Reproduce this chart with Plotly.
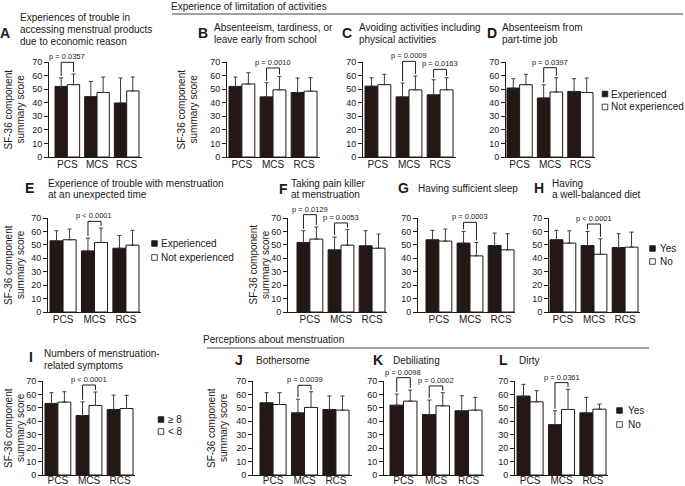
import plotly.graph_objects as go

W, H = 685, 486
categories = ["PCS", "MCS", "RCS"]
y_ticks = [0, 10, 20, 30, 40, 50, 60, 70]

# ---- data: means and SD (upper error) for black (first) and white (second) groups ----
A_black = [52.0, 44.5, 39.8]; A_black_sd = [6.3, 11.2, 18.5]
A_white = [53.3, 47.5, 48.7]; A_white_sd = [7.8, 11.4, 10.2]

B_black = [52.0, 44.3, 47.5]; B_black_sd = [6.9, 10.4, 10.7]
B_white = [53.8, 49.5, 48.5]; B_white_sd = [8.3, 9.9, 9.9]

C_black = [52.2, 44.3, 45.8]; C_black_sd = [6.2, 10.2, 11.1]
C_white = [53.3, 49.5, 49.5]; C_white_sd = [7.6, 10.2, 8.9]

D_black = [50.8, 43.5, 48.3]; D_black_sd = [6.9, 9.7, 9.4]
D_white = [53.3, 47.9, 47.5]; D_white_sd = [7.6, 10.5, 10.7]

E_black = [53.0, 45.5, 47.5]; E_black_sd = [7.5, 9.5, 9.5]
E_white = [53.8, 51.8, 49.8]; E_white_sd = [8.0, 10.7, 11.0]

F_black = [51.8, 46.3, 49.3]; F_black_sd = [8.7, 9.5, 11.2]
F_white = [54.3, 49.8, 47.5]; F_white_sd = [9.0, 11.5, 10.5]

G_black = [53.8, 51.3, 49.5]; G_black_sd = [7.0, 8.7, 9.3]
G_white = [52.8, 41.8, 46.3]; G_white_sd = [9.0, 10.0, 12.0]

H_black = [53.8, 49.5, 48.0]; H_black_sd = [7.0, 10.5, 10.3]
H_white = [51.3, 43.0, 48.3]; H_white_sd = [9.2, 11.5, 11.2]

I_black = [53.3, 44.3, 48.8]; I_black_sd = [8.0, 10.2, 10.7]
I_white = [54.3, 51.8, 49.5]; I_white_sd = [7.7, 10.0, 9.8]

J_black = [53.8, 46.3, 48.8]; J_black_sd = [7.5, 10.2, 10.0]
J_white = [52.5, 50.3, 48.3]; J_white_sd = [8.8, 11.7, 10.5]

K_black = [52.0, 45.0, 47.8]; K_black_sd = [8.3, 10.8, 11.2]
K_white = [55.0, 51.5, 48.3]; K_white_sd = [8.3, 9.8, 9.5]

L_black = [58.8, 37.5, 46.3]; L_black_sd = [8.7, 10.3, 11.5]
L_white = [54.5, 48.8, 49.0]; L_white_sd = [8.3, 15.0, 3.8]

# significance brackets: (category index, label, bracket top value)
A_sig = [(0, "p = 0.0357", 69.8)]
B_sig = [(1, "p = 0.0010", 65.6)]
C_sig = [(1, "p = 0.0009", 70.5), (2, "p = 0.0163", 64.6)]
D_sig = [(1, "p = 0.0397", 65.8)]
E_sig = [(1, "p &lt; 0.0001", 67.5)]
F_sig = [(0, "p = 0.0129", 72.5), (1, "p = 0.0053", 66.3)]
G_sig = [(1, "p = 0.0003", 66.8)]
H_sig = [(1, "p &lt; 0.0001", 65.5)]
I_sig = [(1, "p &lt; 0.0001", 67.0)]
J_sig = [(1, "p = 0.0039", 66.8)]
K_sig = [(0, "p = 0.0098", 72.5), (1, "p = 0.0002", 66.3)]
L_sig = [(1, "p = 0.0361", 68.8)]

# titles
A_title = ["Experiences of trouble in", "accessing menstrual products", "due to economic reason"]
B_title = ["Absenteeism, tardiness, or", "leave early from school"]
C_title = ["Avoiding activities including", "physical activities"]
D_title = ["Absenteeism from", "part-time job"]
E_title = ["Experience of trouble with menstruation", "at an unexpected time"]
F_title = ["Taking pain killer", "at menstruation"]
G_title = ["Having sufficient sleep"]
H_title = ["Having", "a well-balanced diet"]
I_title = ["Numbers of menstruation-", "related symptoms"]
J_title = ["Bothersome"]
K_title = ["Debiliating"]
L_title = ["Dirty"]

legend_exp = ["Experienced", "Not experienced"]
legend_yes = ["Yes", "No"]
legend_num = ["\u2265 8", "&lt; 8"]

header1 = "Experience of limitation of activities"
header2 = "Perceptions about menstruation"
ytitle = ["SF-36 component", "summary score"]

# ---- layout geometry (pixels) ----
INK = "#231815"
FONT = "Liberation Sans, Arial, sans-serif"
GAP = 0.17
rows = {1: (157, 62), 2: (312, 218), 3: (475, 381)}
label_standoff = {1: -2, 2: -2, 3: -4}

panels = [
    dict(k="A", b=A_black, bs=A_black_sd, w=A_white, ws=A_white_sd, sig=A_sig, geo=(49, 55, 139, 142), row=1,
         letter=(5, 33), title=A_title, tx=19, tys=[17, 29, 41], yt=(8, 20), leg=None),
    dict(k="B", b=B_black, bs=B_black_sd, w=B_white, ws=B_white_sd, sig=B_sig, geo=(227, 229, 317, 320), row=1,
         letter=(203, 33), title=B_title, tx=213, tys=[28, 40], yt=(181, 193), leg=None),
    dict(k="C", b=C_black, bs=C_black_sd, w=C_white, ws=C_white_sd, sig=C_sig, geo=(363, 365, 453, 456), row=1,
         letter=(347, 33), title=C_title, tx=358, tys=[28, 40], yt=None, leg=None),
    dict(k="D", b=D_black, bs=D_black_sd, w=D_white, ws=D_white_sd, sig=D_sig, geo=(506, 507, 593, 595), row=1,
         letter=(492, 33), title=D_title, tx=501, tys=[28, 40], yt=None, leg=(legend_exp, 605, 94, 13, 610)),
    dict(k="E", b=E_black, bs=E_black_sd, w=E_white, ws=E_white_sd, sig=E_sig, geo=(48, 50, 139, 141), row=2,
         letter=(29, 188), title=E_title, tx=47, tys=[183, 194], yt=(8, 20), leg=(legend_exp, 154.5, 243.5, 14, 160)),
    dict(k="F", b=F_black, bs=F_black_sd, w=F_white, ws=F_white_sd, sig=F_sig, geo=(288, 297, 385, 387), row=2,
         letter=(283, 189), title=F_title, tx=290, tys=[183, 194], yt=(252.5, 265), leg=None),
    dict(k="G", b=G_black, bs=G_black_sd, w=G_white, ws=G_white_sd, sig=G_sig, geo=(418, 426, 514, 515), row=2,
         letter=(403, 188), title=G_title, tx=417, tys=[188], yt=None, leg=None),
    dict(k="H", b=H_black, bs=H_black_sd, w=H_white, ws=H_white_sd, sig=H_sig, geo=(549, 550, 638, 640), row=2,
         letter=(539, 188), title=H_title, tx=551, tys=[183, 194], yt=None, leg=(legend_yes, 652.5, 248.5, 13, 659)),
    dict(k="I", b=I_black, bs=I_black_sd, w=I_white, ws=I_white_sd, sig=I_sig, geo=(43, 45, 133, 135), row=3,
         letter=(31, 357), title=I_title, tx=43, tys=[353, 365], yt=(8, 20), leg=(legend_num, 161, 419.5, 12, 167)),
    dict(k="J", b=J_black, bs=J_black_sd, w=J_white, ws=J_white_sd, sig=J_sig, geo=(253, 260, 349, 352), row=3,
         letter=(239, 360), title=J_title, tx=255, tys=[360], yt=(211, 223), leg=None),
    dict(k="K", b=K_black, bs=K_black_sd, w=K_white, ws=K_white_sd, sig=K_sig, geo=(384, 390, 482, 484), row=3,
         letter=(378, 360), title=K_title, tx=392, tys=[360], yt=None, leg=None),
    dict(k="L", b=L_black, bs=L_black_sd, w=L_white, ws=L_white_sd, sig=L_sig, geo=(515, 517, 606, 608), row=3,
         letter=(503, 360), title=L_title, tx=518, tys=[360], yt=None, leg=(legend_yes, 619.5, 410.5, 14, 627)),
]


def fx(p):
    return p / W


def fy(p):
    return 1 - p / H


fig = go.Figure()
annotations = []
shapes = []
layout_axes = {}


def text(x, y, s, size, xanchor="left", yanchor="middle", angle=0):
    annotations.append(dict(x=fx(x), y=fy(y), xref="paper", yref="paper", text=s, showarrow=False,
                            xanchor=xanchor, yanchor=yanchor, textangle=angle,
                            font=dict(family=FONT, size=size, color=INK), borderpad=0))


def line(x0, y0, x1, y1, w=1, color=INK):
    shapes.append(dict(type="line", xref="paper", yref="paper", x0=x0, y0=y0, x1=x1, y1=y1,
                       line=dict(color=color, width=w)))


for n, p in enumerate(panels, start=1):
    a0, b0, b1, a1 = p["geo"]
    ybot, ytop = rows[p["row"]]
    wcat = (b1 - b0) / (3 - GAP)
    r0 = -0.5 + GAP / 2 - (b0 - a0) / wcat
    r1 = 2.5 - GAP / 2 + (a1 - b1) / wcat
    xs = "" if n == 1 else str(n)
    err = dict(type="data", symmetric=False, color="#3a3a3a", thickness=1, width=2)
    fig.add_trace(go.Bar(x=categories, y=p["b"], xaxis="x" + xs, yaxis="y" + xs, showlegend=False,
                         marker=dict(color=INK, line=dict(color=INK, width=1)),
                         error_y=dict(err, array=p["bs"], arrayminus=[0, 0, 0])))
    fig.add_trace(go.Bar(x=categories, y=p["w"], xaxis="x" + xs, yaxis="y" + xs, showlegend=False,
                         marker=dict(color="white", line=dict(color=INK, width=1)),
                         error_y=dict(err, array=p["ws"], arrayminus=[0, 0, 0])))
    layout_axes["xaxis" + xs] = dict(domain=[fx(a0), fx(a1)], range=[r0, r1], anchor="y" + xs,
                                     type="category", categoryorder="array", categoryarray=categories,
                                     showline=True, linecolor=INK, linewidth=1, ticks="", showgrid=False,
                                     zeroline=False, automargin=False,
                                     ticklabelstandoff=label_standoff[p["row"]],
                                     tickfont=dict(family=FONT, size=10, color=INK))
    layout_axes["yaxis" + xs] = dict(domain=[fy(ybot), fy(ytop)], range=[0, 70], anchor="x" + xs,
                                     tickvals=y_ticks, showline=True, linecolor=INK, linewidth=1,
                                     ticks="outside", ticklen=4, tickcolor=INK, tickwidth=1,
                                     showgrid=False, zeroline=False, automargin=False,
                                     tickfont=dict(family=FONT, size=9, color=INK))

    def px_of(v, a0=a0, a1=a1, r0=r0, r1=r1):
        return fx(a0) + (v - r0) / (r1 - r0) * (fx(a1) - fx(a0))

    def py_of(v, ybot=ybot, ytop=ytop):
        return fy(ybot) + v / 70 * (fy(ytop) - fy(ybot))

    off = (1 - GAP) / 4
    for ci, label, top in p["sig"]:
        xb = px_of(ci - off)
        xw = px_of(ci + off)
        lb = p["b"][ci] + p["bs"][ci] + 1.5
        lw = p["w"][ci] + p["ws"][ci] + 1.5
        shapes.append(dict(type="path", xref="paper", yref="paper",
                           path=f"M{xb},{py_of(lb)} L{xb},{py_of(top)} L{xw},{py_of(top)} L{xw},{py_of(lw)}",
                           line=dict(color=INK, width=1)))
        annotations.append(dict(x=(xb + xw) / 2, y=py_of(top), xref="paper", yref="paper", text=label,
                                showarrow=False, xanchor="center", yanchor="bottom", yshift=0,
                                font=dict(family=FONT, size=7.5, color=INK), borderpad=0))

    text(p["letter"][0], p["letter"][1], "<b>" + p["k"] + "</b>", 14, xanchor="center")
    for s, ty in zip(p["title"], p["tys"]):
        text(p["tx"], ty, s, 10)

    if p["yt"]:
        ymid = (ybot + ytop) / 2
        text(p["yt"][0], ymid, ytitle[0], 10, xanchor="center", angle=-90)
        text(p["yt"][1], ymid, ytitle[1], 10, xanchor="center", angle=-90)

    if p["leg"]:
        labels, sx, sy, step, tx = p["leg"]
        hs = 2.8
        for j, lab in enumerate(labels):
            yy = sy + j * step
            shapes.append(dict(type="rect", xref="paper", yref="paper",
                               x0=fx(sx - hs), x1=fx(sx + hs), y0=fy(yy - hs), y1=fy(yy + hs),
                               fillcolor=INK if j == 0 else "white", line=dict(color=INK, width=0.8)))
            text(tx, yy, lab, 10)

text(170, 6, header1, 10)
line(fx(172), fy(14), fx(683), fy(14), 1.2, "#444")
text(202, 339, header2, 10)
line(fx(207), fy(348), fx(649), fy(348), 1.2, "#444")

fig.update_layout(
    width=W, height=H, margin=dict(l=0, r=0, t=0, b=0, pad=0, autoexpand=False),
    paper_bgcolor="white", plot_bgcolor="white",
    barmode="group", bargap=GAP, bargroupgap=0,
    showlegend=False, annotations=annotations, shapes=shapes,
    font=dict(family=FONT, color=INK),
    **layout_axes,
)

fig.write_html(
    "out.html",
    config={"displayModeBar": False},
    post_script="document.body.style.margin='0';document.body.style.padding='0';"
                "document.body.style.overflow='hidden';",
)
